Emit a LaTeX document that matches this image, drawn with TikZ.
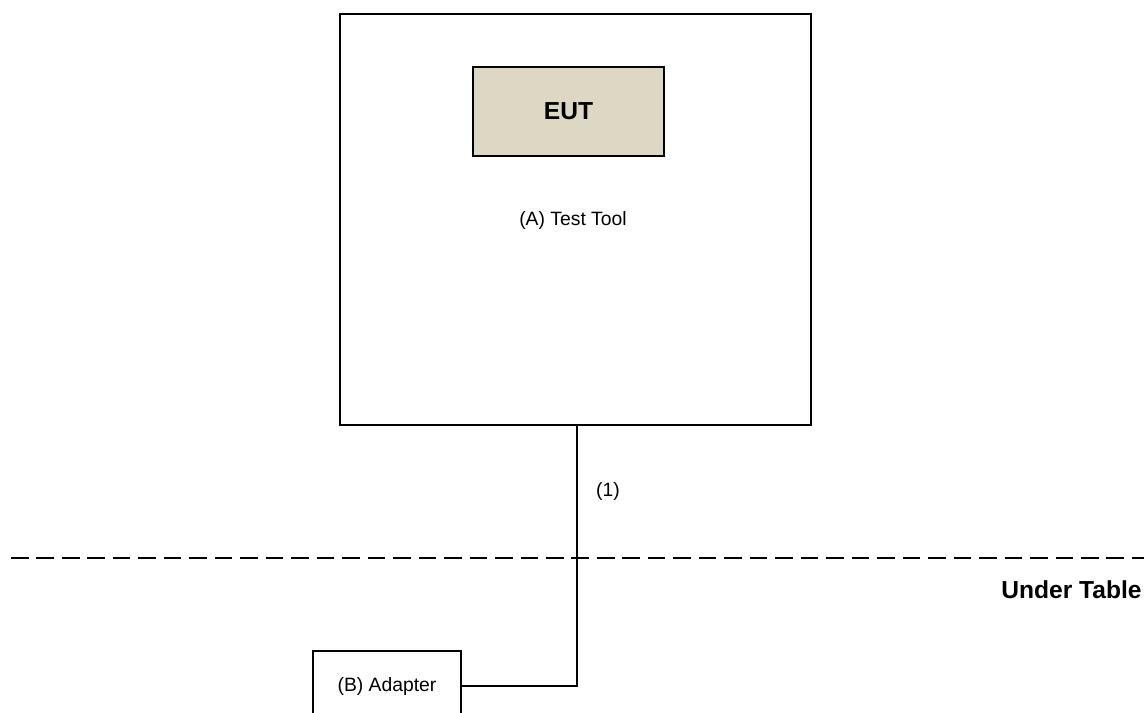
\documentclass[tikz,border=0pt]{standalone}
\usepackage{fontspec}
\setmainfont{Liberation Sans}
\usetikzlibrary{calc}
\tikzset{
	box/.style={draw, line width=1.1pt, inner sep=0pt},
	wire/.style={line width=1.1pt},
}
\begin{document}
\begin{tikzpicture}[x=0.02cm, y=-0.02cm]
			\useasboundingbox (0,0) rectangle (1144,713);
			\node[box, minimum width=9.42cm, minimum height=8.22cm, font=\fontsize{11}{13}\selectfont](tool) at (575.5,219.5) {};
			\node[font=\fontsize{11}{13}\selectfont](toollabel) at (573,220) {(A) Test Tool};
			\node[box, fill={rgb,255:red,221;green,216;blue,196}, minimum width=3.82cm, minimum height=1.78cm, font=\fontsize{14}{16}\selectfont\bfseries](eut) at (568.5,111.5) {EUT};
			\node[box, minimum width=2.96cm, minimum height=1.44cm, font=\fontsize{11}{13}\selectfont](adapter) at (387,687) {(B) Adapter};
			
			\coordinate (top) at (577,425);
			\coordinate (bend) at (577,686);
			\draw[wire](top) -- (bend) -- (bend -| adapter.east);
			\node[font=\fontsize{11}{13}\selectfont](one) at (608,491) {(1)};
			
			\coordinate (L) at (11,558);
			\coordinate (R) at (1144,558);
			\draw[wire, dash pattern=on 10pt off 4.5pt](L) -- (R);
			\node[anchor=east, inner sep=0pt, font=\fontsize{14}{16}\selectfont\bfseries](table) at (1142,590) {Under Table};
		\end{tikzpicture}
\end{document}
